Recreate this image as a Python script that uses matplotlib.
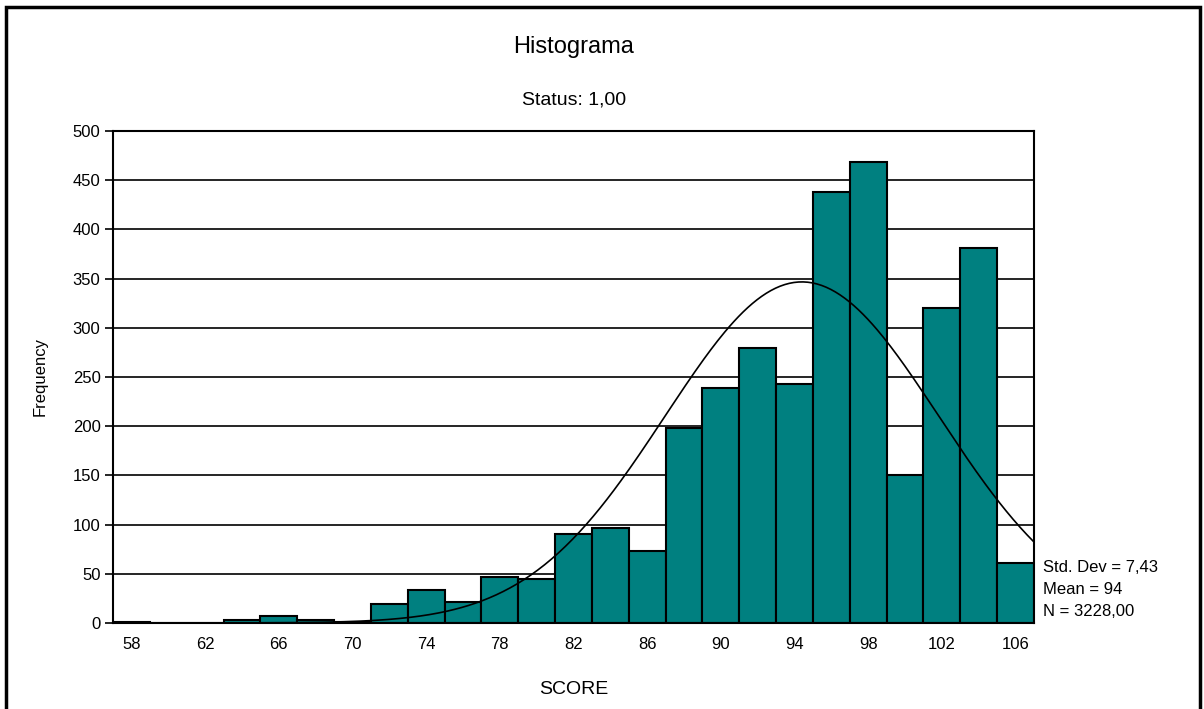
import numpy as np
import matplotlib
matplotlib.use("Agg")
import matplotlib.pyplot as plt
from matplotlib.patches import Rectangle

plt.rcParams['font.family'] = ['Liberation Sans', 'DejaVu Sans']

bin_centers = [58, 60, 62, 64, 66, 68, 70, 72, 74, 76, 78, 80, 82, 84, 86,
               88, 90, 92, 94, 96, 98, 100, 102, 104, 106]
counts = [1, 0, 0, 3, 7, 3, 1, 19, 34, 21, 47, 45, 90, 97, 73,
          198, 239, 279, 243, 438, 468, 150, 320, 381, 61]
x_ticks = [58, 62, 66, 70, 74, 78, 82, 86, 90, 94, 98, 102, 106]
y_ticks = [0, 50, 100, 150, 200, 250, 300, 350, 400, 450, 500]
std_dev = 7.43
mean = 94.4
n_total = 3228
bin_width = 2

W, H = 1204, 709
fig = plt.figure(figsize=(W / 100, H / 100), dpi=100)
ax = fig.add_axes([113 / W, 1 - 623 / H, (1034 - 113) / W, (623 - 131) / H])

for y in y_ticks[1:-1]:
    ax.axhline(y, color='black', lw=1.2, zorder=1)

ax.bar(bin_centers, counts, width=bin_width, color='#008080',
       edgecolor='black', linewidth=1.5, zorder=2)

xs = np.linspace(57, 107, 400)
curve = n_total * bin_width / (std_dev * np.sqrt(2 * np.pi)) * np.exp(-0.5 * ((xs - mean) / std_dev) ** 2)
ax.plot(xs, curve, color='black', lw=1.2, zorder=3)

ax.set_xlim(57, 107)
ax.set_ylim(0, 500)
ax.set_xticks(x_ticks)
ax.set_yticks(y_ticks)
ax.tick_params(axis='x', length=0, pad=10, labelsize=12)
ax.tick_params(axis='y', length=6, width=1.2, direction='out', labelsize=12, pad=3)
for s in ax.spines.values():
    s.set_linewidth(1.5)

fig.text(574 / W, 1 - 47 / H, 'Histograma', ha='center', va='center', fontsize=17)
fig.text(574 / W, 1 - 100 / H, 'Status: 1,00', ha='center', va='center', fontsize=14)
fig.text(574 / W, 1 - 690 / H, 'SCORE', ha='center', va='center', fontsize=14)
fig.text(40 / W, 1 - 377 / H, 'Frequency', ha='center', va='center', rotation=90, fontsize=12)

sd_txt = f'{std_dev:.2f}'.replace('.', ',')
fig.text(1043 / W, 1 - 567 / H, f'Std. Dev = {sd_txt}', ha='left', va='center', fontsize=12)
fig.text(1043 / W, 1 - 590 / H, f'Mean = {mean:.0f}', ha='left', va='center', fontsize=12)
fig.text(1043 / W, 1 - 612 / H, f'N = {n_total},00', ha='left', va='center', fontsize=12)

fig.patches.append(Rectangle((6 / W, -0.05), (1200 - 6) / W, 1 - 7 / H + 0.05,
                             transform=fig.transFigure, fill=False,
                             edgecolor='black', lw=2.5))

fig.savefig('out.png', dpi=100)
